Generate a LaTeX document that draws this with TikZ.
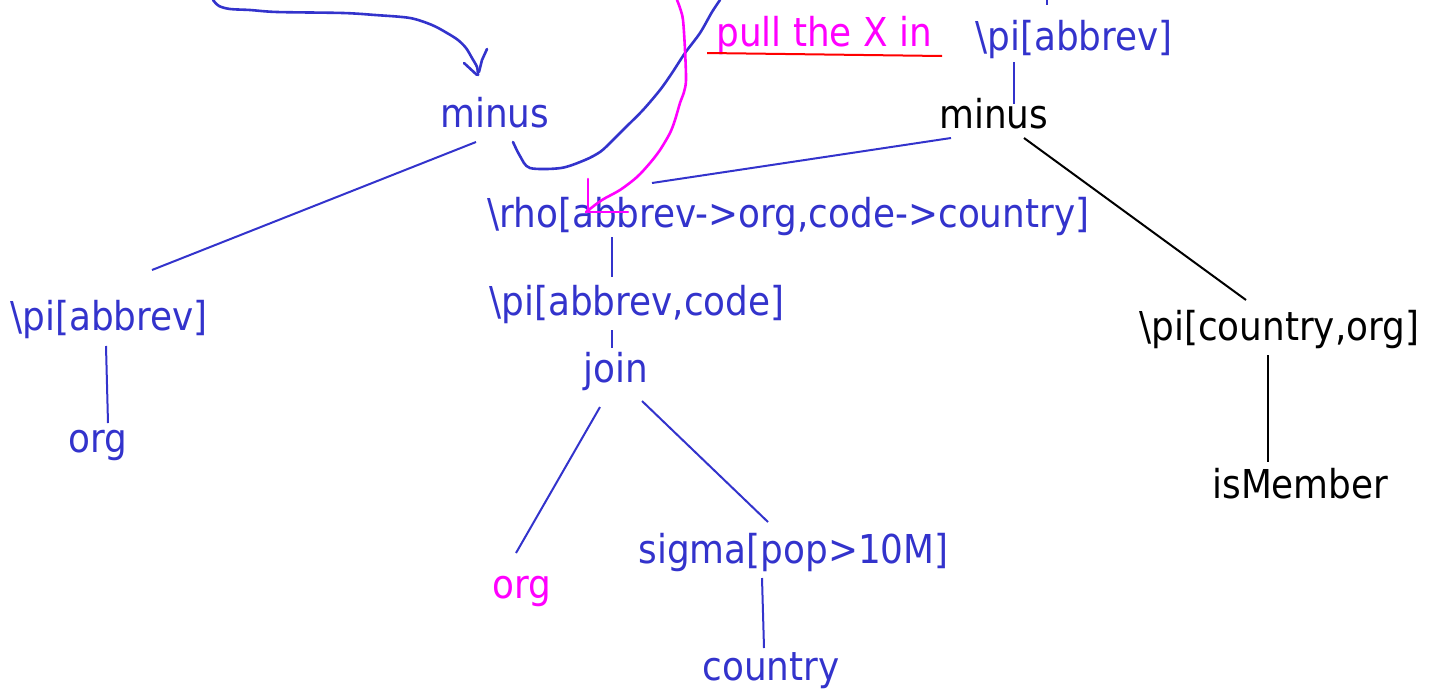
\documentclass[tikz,border=0pt]{standalone}
\usepackage{fontspec}
\setmainfont{DejaVu Sans}[FakeStretch=0.9]
\usetikzlibrary{calc}
\definecolor{tblue}{RGB}{51,51,204}
\definecolor{tmag}{RGB}{255,0,255}
\definecolor{tred}{RGB}{255,0,0}
\begin{document}
\begin{tikzpicture}[x=0.5pt,y=-0.5pt,
  lbl/.style={inner sep=0pt, anchor=base west, font=\fontsize{19.9pt}{23pt}\selectfont},
  bl/.style={lbl,text=tblue},
  bk/.style={lbl,text=black},
  mg/.style={lbl,text=tmag},
  edgeB/.style={draw=tblue,line width=1pt},
  edgeK/.style={draw=black,line width=1pt},
  hand/.style={line width=1.3pt, line cap=round, line join=round}]
\useasboundingbox (0,0) rectangle (1438,696);

% labels
\node[mg] (pull) at (716,46) {pull the X in};
\node[bl] (piTR) at (975,50) {\textbackslash pi[abbrev]};
\node[bk] (mK) at (939,128) {minus};
\node[bl] (mB) at (440,127) {minus};
\node[bl] (rho) at (487,227) {\textbackslash rho[abbrev->org,code->country]};
\node[bl] (piAC) at (489,315) {\textbackslash pi[abbrev,code]};
\node[bl] (join) at (583,382) {join};
\node[mg] (orgM) at (492,598) {org};
\node[bl] (sigma) at (638,563) {sigma[pop>10M]};
\node[bl] (country) at (702,680) {country};
\node[bl] (piL) at (10,330) {\textbackslash pi[abbrev]};
\node[bl] (orgL) at (68,452) {org};
\node[bk] (piCO) at (1139,340) {\textbackslash pi[country,org]};
\node[bk] (isM) at (1212,498) {isMember};

\coordinate (topstub) at (1047,0);

% connectors
\draw[edgeB] ($(mB.base west)+(36,15)$) -- ($(piL.base west)+(142,-60)$);
\draw[edgeB] ($(piL.base west)+(96,16)$) -- ($(orgL.base west)+(40,-29)$);
\draw[edgeB] ($(mK.base west)+(12,10)$) -- ($(rho.base west)+(165,-44)$);
\draw[edgeK] ($(mK.base west)+(85,10)$) -- ($(piCO.base west)+(107,-40)$);
\draw[edgeB] ($(piTR.base west)+(39,12)$) -- ($(mK.base west)+(75,-24)$);
\draw[edgeB] (topstub) -- ($(piTR.base west)+(72,-45)$);
\draw[edgeB] ($(rho.base west)+(125,10)$) -- ($(piAC.base west)+(123,-38)$);
\draw[edgeB] ($(piAC.base west)+(123,15)$) -- ($(join.base west)+(29,-34)$);
\draw[edgeB] ($(join.base west)+(17,25)$) -- ($(orgM.base west)+(24,-45)$);
\draw[edgeB] ($(join.base west)+(59,19)$) -- ($(sigma.base west)+(130,-41)$);
\draw[edgeB] ($(sigma.base west)+(124,15)$) -- ($(country.base west)+(62,-32)$);
\draw[edgeK] ($(piCO.base west)+(129,15)$) -- ($(isM.base west)+(56,-36)$);

% red underline
\draw[draw=tred,line width=1pt] ($(pull.base west)+(-9,7)$) -- ($(pull.base west)+(226,10)$);

% hand-drawn annotations
\draw[hand,tblue] plot[smooth,tension=0.5] coordinates {(213,0) (219,6) (230,9) (250,10) (277,12) (343,13) (375,15) (410,18) (432,25) (447,33) (458,40) (466,48) (472,58) (477,67) (478,75)};
\draw[hand,tblue] (464,63) -- (477,75);
\draw[hand,tblue] (487,49) -- (482,60) -- (479,72);

\draw[hand,tblue] plot[smooth,tension=0.5] coordinates {(513,142) (520,156) (530,168) (561,168) (585,160) (600,152) (610,143) (625,128) (643,110) (660,90) (672,73) (685,53) (700,33) (712,12) (720,0)};

\draw[hand,tmag] plot[smooth,tension=0.5] coordinates {(677,0) (680,8) (683,20) (685,50) (686,80) (684,92) (680,103) (675,120) (670,133) (660,150) (650,163) (637,177) (620,190) (602,200) (586,212)};
\draw[hand,tmag] (588,179) -- (588,212) -- (628,212);
\end{tikzpicture}
\end{document}
